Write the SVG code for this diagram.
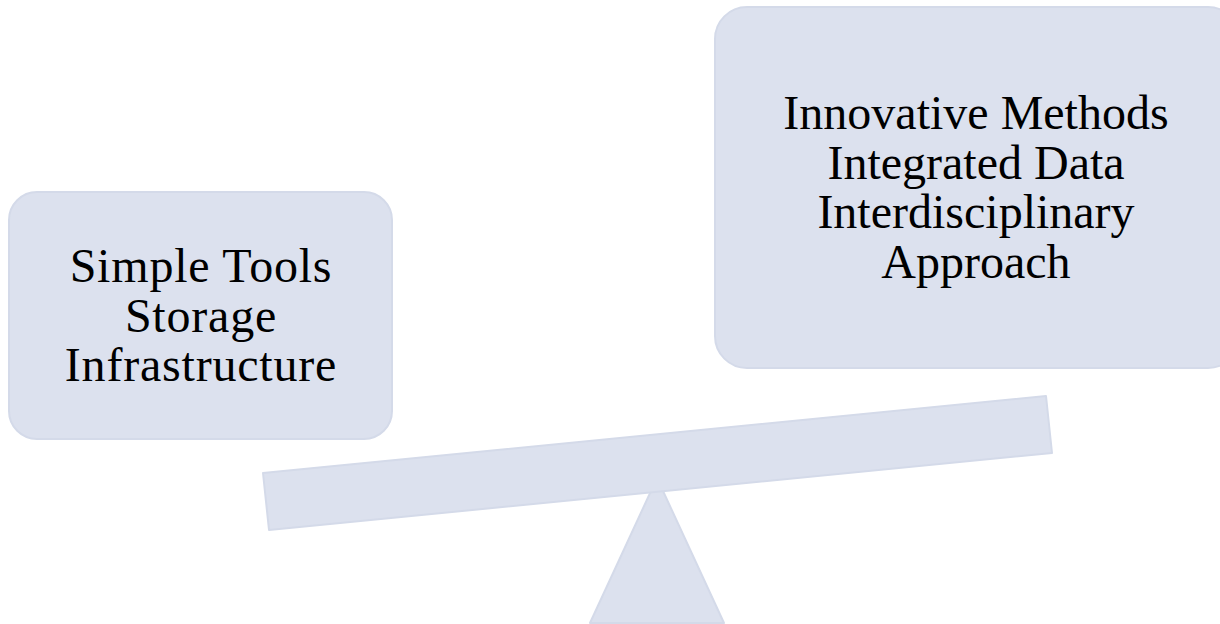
<svg xmlns="http://www.w3.org/2000/svg" width="1220" height="624" viewBox="0 0 1220 624">
  <style>
    .shape { fill: #DCE1EE; stroke: #D4DAE9; stroke-width: 2; stroke-linejoin: round; }
    .label { font-family: "Liberation Serif", "Times New Roman", serif; font-size: 48px; fill: #000000; text-anchor: middle; }
    .label-wide { letter-spacing: 0.8px; }
  </style>
  <rect width="1220" height="624" fill="#FFFFFF"/>

  <!-- seesaw: fulcrum and beam -->
  <g id="fulcrum">
    <polygon class="shape" points="657,478 724,623 590,623"/>
  </g>
  <g id="beam">
    <polygon class="shape" points="263,473 1046,396 1052,453 269,530"/>
  </g>

  <!-- left pan -->
  <g id="node-left">
    <rect class="shape" x="9" y="192" width="383" height="247" rx="28" ry="28"/>
    <text class="label label-wide" x="201" y="282">Simple Tools</text>
    <text class="label label-wide" x="201" y="332">Storage</text>
    <text class="label label-wide" x="201" y="381">Infrastructure</text>
  </g>

  <!-- right pan -->
  <g id="node-right">
    <rect class="shape" x="715" y="7" width="525" height="361" rx="32" ry="32"/>
    <text class="label" x="976" y="129">Innovative Methods</text>
    <text class="label" x="976" y="178.5">Integrated Data</text>
    <text class="label" x="976" y="228">Interdisciplinary</text>
    <text class="label" x="976" y="277.5">Approach</text>
  </g>

  <g id="connectors"></g>
</svg>
